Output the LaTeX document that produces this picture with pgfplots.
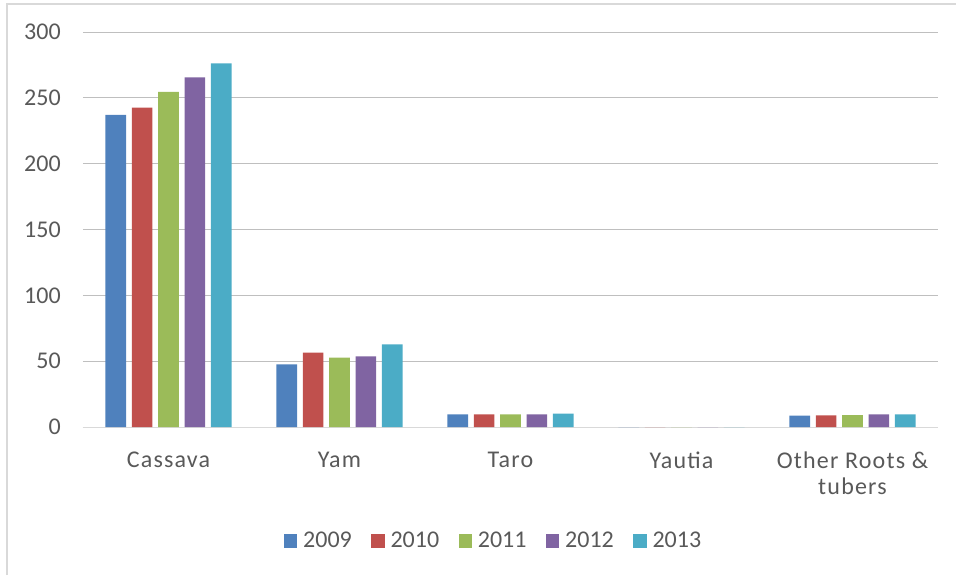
\documentclass[border=0pt]{standalone}
\usepackage{pgfplots}
\pgfplotsset{compat=1.18}
\usepackage{fontspec}
\setmainfont{Carlito}
\newfontfamily\lblfont[LetterSpace=5]{Carlito}
\definecolor{c1}{HTML}{4F81BD}
\definecolor{c2}{HTML}{C0504D}
\definecolor{c3}{HTML}{9BBB59}
\definecolor{c4}{HTML}{8064A2}
\definecolor{c5}{HTML}{4BACC6}
\definecolor{txt}{HTML}{595959}
\definecolor{grid}{HTML}{D9D9D9}
\begin{document}
\begin{tikzpicture}[x=0.75pt,y=0.75pt]
\path[use as bounding box] (0,0) rectangle (956,575);
\draw[grid, line width=1.5pt] (7,0) -- (7,571) -- (956,571);
\begin{axis}[
  at={(62.25pt,111pt)}, anchor=south west,
  scale only axis, width=641.25pt, height=296.25pt,
  ybar=4.3pt, bar width=15.5pt,
  xmin=-0.5, xmax=4.5, ymin=0, ymax=300,
  xtick=data,
  xticklabels={Cassava, Yam, Taro, Yautia, {Other Roots \&\\tubers}},
  ytick={0,50,...,300},
  major tick length=0pt,
  axis x line*=bottom, axis y line*=left,
  x axis line style={grid, line width=0.75pt, -},
  y axis line style={draw=none},
  xmajorgrids=false, ymajorgrids=true,
  major grid style={grid, line width=0.75pt},
  /pgf/number format/assume math mode=true,
  tick label style={font=\fontsize{18}{19}\selectfont, text=txt},
  yticklabel style={anchor=east, inner sep=0pt, xshift=-16.5pt},
  xticklabel style={anchor=north, inner sep=0pt, yshift=-18.5pt, align=center, font=\lblfont\fontsize{18}{19.5}\selectfont},
  legend style={at={(0.4825,-0.289)}, anchor=center, draw=none, fill=none,
    font=\fontsize{18}{19}\selectfont, text=txt,
    /tikz/every even column/.append style={column sep=10pt},
    nodes={inner xsep=4.5pt, inner ysep=1pt}},
  legend columns=5,
  legend image code/.code={\fill[#1] (0pt,-5pt) rectangle (10pt,5pt);},
  every axis plot/.append style={draw=none},
]
\addplot[fill=c1] coordinates {(0,237) (1,47.6) (2,9.5) (3,0) (4,8.6)};
\addplot[fill=c2] coordinates {(0,242.5) (1,56.4) (2,9.5) (3,0) (4,8.8)};
\addplot[fill=c3] coordinates {(0,254.6) (1,52.6) (2,9.5) (3,0) (4,9.1)};
\addplot[fill=c4] coordinates {(0,265.5) (1,53.7) (2,9.5) (3,0) (4,9.6)};
\addplot[fill=c5] coordinates {(0,276.2) (1,62.8) (2,10.2) (3,0) (4,9.6)};
\legend{2009,2010,2011,2012,2013}
\end{axis}
\end{tikzpicture}
\end{document}
